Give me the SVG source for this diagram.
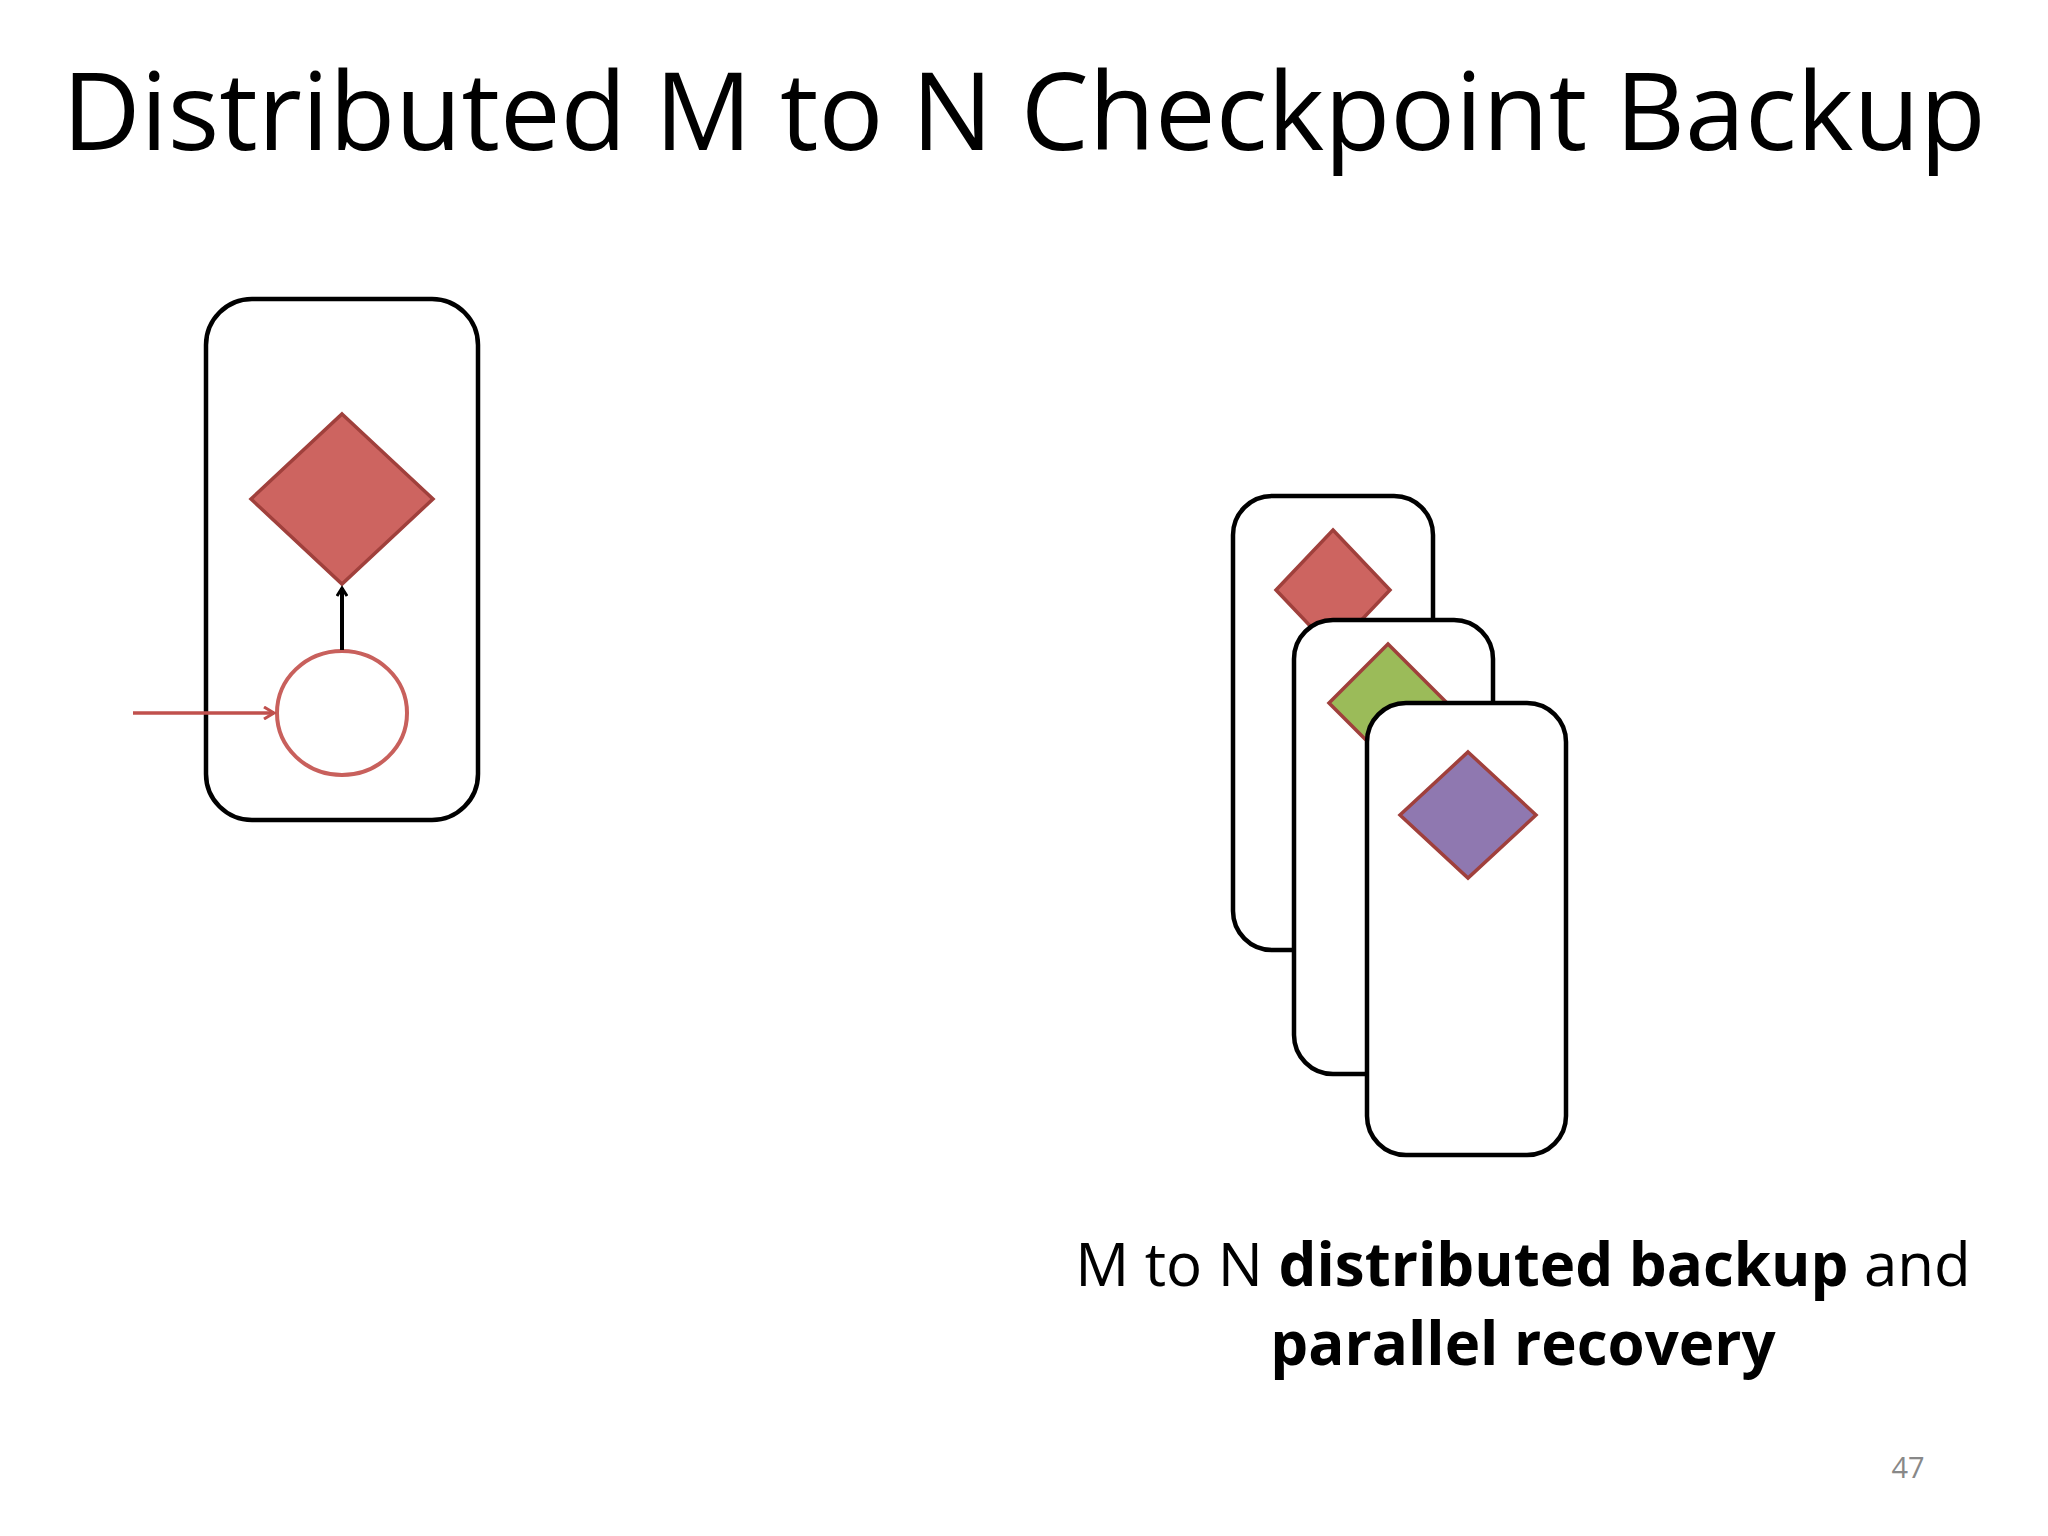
<svg xmlns="http://www.w3.org/2000/svg" width="2048" height="1536" viewBox="0 0 2048 1536">
<defs>
<style>
.box{fill:#fff;stroke:#000;stroke-width:4.5}
.red{fill:#cd6460;stroke:#a0403c;stroke-width:3.5}
.t{font-family:"Open Sans","Liberation Sans",sans-serif}
</style>
<marker id="ab" markerWidth="12" markerHeight="12" refX="9" refY="6" orient="auto" markerUnits="userSpaceOnUse"><path d="M1,1 L9,6 L1,11" fill="none" stroke="#000" stroke-width="3"/></marker>
<marker id="ar" markerWidth="14" markerHeight="14" refX="11" refY="7" orient="auto" markerUnits="userSpaceOnUse"><path d="M1,1 L11,7 L1,13" fill="none" stroke="#c0504d" stroke-width="3"/></marker>
</defs>
<rect width="2048" height="1536" fill="#fff"/>
<text class="t" x="1024" y="150" font-size="108" text-anchor="middle">Distributed M to N Checkpoint Backup</text>
<g id="node-left">
<rect class="box" x="206" y="299" width="272" height="521" rx="46"/>
<polygon id="diamond-left" class="red" points="342,414 433,499 342,584 251,499"/>
<ellipse id="circle-left" cx="342" cy="713" rx="65" ry="62" fill="#fff" stroke="#c8605c" stroke-width="4"/>
</g>
<g id="connectors">
<line x1="342" y1="650" x2="342" y2="588" stroke="#000" stroke-width="4" marker-end="url(#ab)"/>
<line x1="133" y1="713" x2="274" y2="713" stroke="#c0504d" stroke-width="3.5" marker-end="url(#ar)"/>
</g>
<g id="node-stack1">
<rect class="box" x="1233" y="496" width="200" height="454" rx="39"/>
<polygon class="red" points="1333,530 1390,590 1333,650 1276,590"/>
</g>
<g id="node-stack2">
<rect class="box" x="1294" y="620" width="199" height="454" rx="39"/>
<polygon points="1388,644 1447,703 1388,762 1329,703" fill="#9bbb59" stroke="#a0403c" stroke-width="3.5"/>
</g>
<g id="node-stack3">
<rect class="box" x="1367" y="703" width="199" height="452" rx="39"/>
<polygon points="1468,752 1536,815 1468,878 1400,815" fill="#8f78b0" stroke="#a0403c" stroke-width="3.5"/>
</g>
<text class="t" x="1523" y="1286" font-size="60" text-anchor="middle">M to N <tspan font-weight="bold">distributed backup</tspan> and</text>
<text class="t" x="1523" y="1365" font-size="60" text-anchor="middle" font-weight="bold">parallel recovery</text>
<text class="t" x="1908" y="1478" font-size="29" fill="#888" text-anchor="middle">47</text>
</svg>
